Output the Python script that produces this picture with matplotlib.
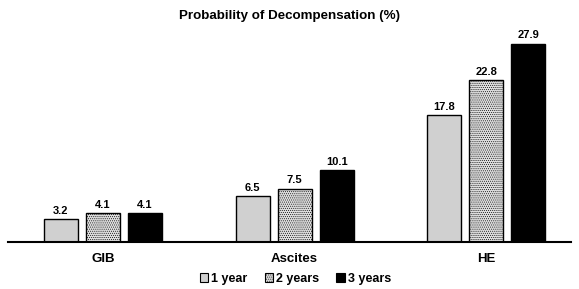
import matplotlib
matplotlib.use('Agg')
from matplotlib import pyplot as plt
from matplotlib.patches import Patch
import numpy as np

plt.rcParams['font.family'] = ['Liberation Sans', 'DejaVu Sans']
plt.rcParams['font.weight'] = 'bold'
plt.rcParams['hatch.color'] = '#8a8a8a'
plt.rcParams['hatch.linewidth'] = 0.4

categories = ['GIB', 'Ascites', 'HE']
series = ['1 year', '2 years', '3 years']
one_year = [3.2, 6.5, 17.8]
two_years = [4.1, 7.5, 22.8]
three_years = [4.1, 10.1, 27.9]

x = np.arange(len(categories))
w = 0.177
step = 0.219

fig = plt.figure(figsize=(5.79, 2.89), dpi=100)
ax = fig.add_axes([0.0138, 0.1626, 0.972, 0.733])

b1 = ax.bar(x - step, one_year, w, color='#d0d0d0', edgecolor='black', linewidth=1)
b2 = ax.bar(x, two_years, w, color='#dedede', edgecolor='black', linewidth=1, hatch='........')
b3 = ax.bar(x + step, three_years, w, color='black', edgecolor='black', linewidth=1)

for bars, vals in [(b1, one_year), (b2, two_years), (b3, three_years)]:
    for b, v in zip(bars, vals):
        ax.text(b.get_x() + b.get_width() / 2, v + 0.45, f'{v:.1f}',
                ha='center', va='bottom', fontsize=8, fontweight='bold')

ax.set_xlim(-0.495, 2.44)
ax.set_ylim(0, 29.8)
ax.set_xticks(x)
ax.set_xticklabels(categories, fontsize=9.5, fontweight='bold')
ax.tick_params(axis='x', length=0, pad=8)
ax.set_yticks([])
for s in ['top', 'right', 'left']:
    ax.spines[s].set_visible(False)
ax.spines['bottom'].set_linewidth(1.5)

fig.text(0.5, 0.945, 'Probability of Decompensation (%)', ha='center', va='center',
         fontsize=9.6, fontweight='bold')

handles = [Patch(facecolor='#d0d0d0', edgecolor='black', linewidth=0.8),
           Patch(facecolor='#dedede', edgecolor='black', linewidth=0.8, hatch='........'),
           Patch(facecolor='black', edgecolor='black', linewidth=0.8)]
fig.legend(handles, series, loc='center', bbox_to_anchor=(0.51, 0.035), ncol=3, frameon=False,
           fontsize=9, handlelength=0.7, handleheight=0.7, handletextpad=0.2, columnspacing=1.4)

fig.savefig('out.png', dpi=100)
